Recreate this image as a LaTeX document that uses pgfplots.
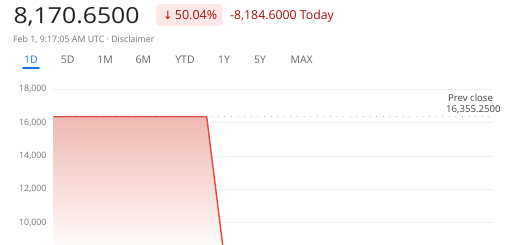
\documentclass[border=0pt]{standalone}
\usepackage{pgfplots}
\pgfplotsset{compat=1.18}
\usepackage{fontspec}
\setmainfont{Open Sans}
\newfontfamily\dejavu{DejaVu Sans}
\definecolor{txt}{HTML}{202124}
\definecolor{subtxt}{HTML}{70757A}
\definecolor{tabtxt}{HTML}{5F6368}
\definecolor{gblue}{HTML}{1A73E8}
\definecolor{badgebg}{HTML}{FCE8E6}
\definecolor{dred}{HTML}{A50E0E}
\definecolor{linered}{HTML}{DD4B3E}
\definecolor{fillred}{HTML}{EFB8B3}
\definecolor{gridc}{HTML}{EEF0F1}
\definecolor{dotc}{HTML}{9AA0A6}
\definecolor{prevtxt}{HTML}{3C4043}
\begin{document}
\begin{tikzpicture}[x=1pt,y=1pt]
\path[use as bounding box] (0,0) rectangle (520,245);
% header
\node[anchor=base west, inner sep=0pt, text=txt] at (13.3,221.5)
  {\resizebox{126pt}{16pt}{\fontsize{22}{22}\selectfont 8,170.6500}};
\fill[badgebg, rounded corners=4pt] (156,219) rectangle (222.7,241);
\node[anchor=base west, inner sep=0pt, text=dred] at (163,225.7)
  {\resizebox{54pt}{!}{\fontsize{12}{12}\selectfont{\dejavu\fontsize{11}{11}\selectfont ↓}\,50.04\%}};
\node[anchor=base west, inner sep=0pt, text=dred] at (230,225.7)
  {\fontsize{12.3}{12}\selectfont -8,184.6000 Today};
\node[anchor=base west, inner sep=0pt, text=subtxt] at (13,202.7)
  {\fontsize{8.8}{10}\selectfont Feb 1, 9:17:05 AM UTC · Disclaimer};
% tabs
\foreach \xx/\lab in {67.7/5D,105/1M,143.3/6M,185/YTD,224/1Y,260/5Y,301.7/MAX}
  \node[anchor=base, inner sep=0pt, text=tabtxt] at (\xx,181) {\fontsize{10.5}{12}\selectfont \lab};
\node[anchor=base, inner sep=0pt, text=gblue] at (31,181) {\fontsize{10.5}{12}\selectfont 1D};
\draw[gblue, line width=2pt, line cap=round] (23,177.3) -- (39,177.3);
\begin{axis}[at={(53.3pt,0pt)}, anchor=south west, scale only axis,
  width=440pt, height=160pt,
  xmin=0, xmax=440, ymin=8662, ymax=18258,
  axis line style={draw=none},
  xtick=\empty,
  ytick={10000,12000,14000,16000,18000},
  ymajorgrids, grid style={color=gridc, line width=0.8pt},
  major tick length=0pt,
  scaled y ticks=false,
  yticklabel style={font=\fontsize{8.8}{10}\selectfont, text=subtxt, inner sep=0pt, xshift=-6.6pt},
  /pgf/number format/assume math mode=true,
  /pgf/number format/1000 sep={,},
]
\addplot[draw=none, top color=fillred, bottom color=white] coordinates
  {(0,16355.25) (153.4,16355.25) (170.4,8170.65) (0,8170.65)} -- cycle;
\addplot[linered, line width=1.4pt, line join=round] coordinates
  {(0,16355.25) (153.4,16355.25) (170.4,8170.65)};
\addplot[dotc, line width=1pt, line cap=round, dash pattern=on 0pt off 6.6pt] coordinates
  {(0,16355.25) (436,16355.25)};
\end{axis}
\node[anchor=base west, inner sep=0pt, text=prevtxt] at (448,143.3)
  {\fontsize{9.6}{10}\selectfont Prev close};
\node[anchor=base west, inner sep=0pt, text=prevtxt] at (446,132.7)
  {\fontsize{9.6}{10}\selectfont 16,355.2500};
\end{tikzpicture}
\end{document}
